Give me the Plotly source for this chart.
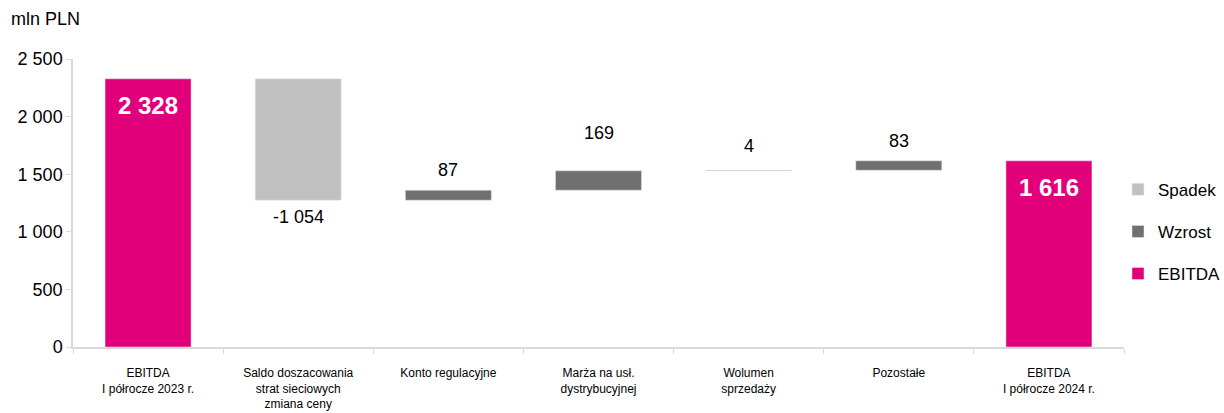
import plotly.graph_objects as go

categories = [
    "EBITDA<br>I półrocze 2023 r.",
    "Saldo doszacowania<br>strat sieciowych<br>zmiana ceny",
    "Konto regulacyjne",
    "Marża na usł.<br>dystrybucyjnej",
    "Wolumen<br>sprzedaży",
    "Pozostałe",
    "EBITDA<br>I półrocze 2024 r.",
]
start_ebitda = 2328
changes = [-1054, 87, 169, 4, 83]
end_ebitda = 1616
label_shift = [-5, 8, 26, 12, 8]

FONT = "Liberation Sans, Arial, sans-serif"
C_SP = "#c0c0c0"
C_WZ = "#707070"
C_EB = "#e2007a"

def fmt(v):
    s = f"{abs(v):,}".replace(",", " ")
    return ("-" if v < 0 else "") + s

bases = []
run = start_ebitda
for c in changes:
    bases.append(run + c if c < 0 else run)
    run += c

mid_cats = categories[1:6]
sp_x = [mid_cats[i] for i, c in enumerate(changes) if c < 0]
sp_y = [abs(c) for c in changes if c < 0]
sp_b = [bases[i] for i, c in enumerate(changes) if c < 0]
wz_x = [mid_cats[i] for i, c in enumerate(changes) if c >= 0]
wz_y = [c for c in changes if c >= 0]
wz_b = [bases[i] for i, c in enumerate(changes) if c >= 0]

eb_x = [categories[0], categories[6]]
eb_y = [start_ebitda, end_ebitda]

fig = go.Figure()
fig.add_trace(go.Bar(name="Spadek", x=sp_x, y=sp_y, base=sp_b, marker_color=C_SP,
                     width=0.573, legendgroup="a", hoverinfo="skip"))
fig.add_trace(go.Bar(name="Wzrost", x=wz_x, y=wz_y, base=wz_b, marker_color=C_WZ,
                     width=0.573, legendgroup="b", hoverinfo="skip"))
fig.add_trace(go.Bar(name="EBITDA", x=eb_x, y=eb_y, marker_color=C_EB, width=0.573,
                     legendgroup="c", hoverinfo="skip"))

for xv, yv in zip(eb_x, eb_y):
    fig.add_annotation(x=xv, y=yv, text=f"<b>{fmt(yv)}</b>", showarrow=False,
                       yanchor="top", yshift=-11,
                       font=dict(family=FONT, size=24, color="white"))

for i, c in enumerate(changes):
    if c < 0:
        fig.add_annotation(x=mid_cats[i], y=bases[i], text=fmt(c), showarrow=False,
                           yanchor="top", yshift=label_shift[i],
                           font=dict(family=FONT, size=18, color="black"))
    else:
        fig.add_annotation(x=mid_cats[i], y=bases[i] + c, text=fmt(c), showarrow=False,
                           yanchor="bottom", yshift=label_shift[i],
                           font=dict(family=FONT, size=18, color="black"))

fig.add_annotation(xref="paper", x=-0.0609, xanchor="left",
                   yref="paper", y=1, yanchor="bottom", yshift=28,
                   text="mln PLN", showarrow=False,
                   font=dict(family=FONT, size=18, color="black"))

fig.update_layout(
    width=1224, height=413,
    margin=dict(l=73, r=100, t=59, b=66, autoexpand=False),
    plot_bgcolor="white", paper_bgcolor="white",
    barmode="overlay",
    separators=", ",
    showlegend=True,
    legend=dict(x=0.9943, xanchor="left", y=0.40, yanchor="middle",
                font=dict(family=FONT, size=17, color="black"),
                tracegroupgap=17, itemwidth=30),
    font=dict(family=FONT, color="black"),
)
fig.update_xaxes(categoryorder="array", categoryarray=categories,
                 showline=True, linecolor="#d9d9d9", linewidth=1.5,
                 ticks="outside", tickson="boundaries", tickcolor="#d9d9d9", ticklen=5,
                 ticklabelstandoff=14,
                 tickfont=dict(family=FONT, size=12, color="black"), showgrid=False)
fig.update_yaxes(range=[0, 2500], tickvals=[0, 500, 1000, 1500, 2000, 2500],
                 tickformat=",d", separatethousands=True,
                 showline=True, linecolor="#d9d9d9", linewidth=1.5,
                 ticks="outside", tickcolor="#d9d9d9", ticklen=5,
                 tickfont=dict(family=FONT, size=18, color="black"),
                 showgrid=False, zeroline=False)

fig.write_html("out.html")
